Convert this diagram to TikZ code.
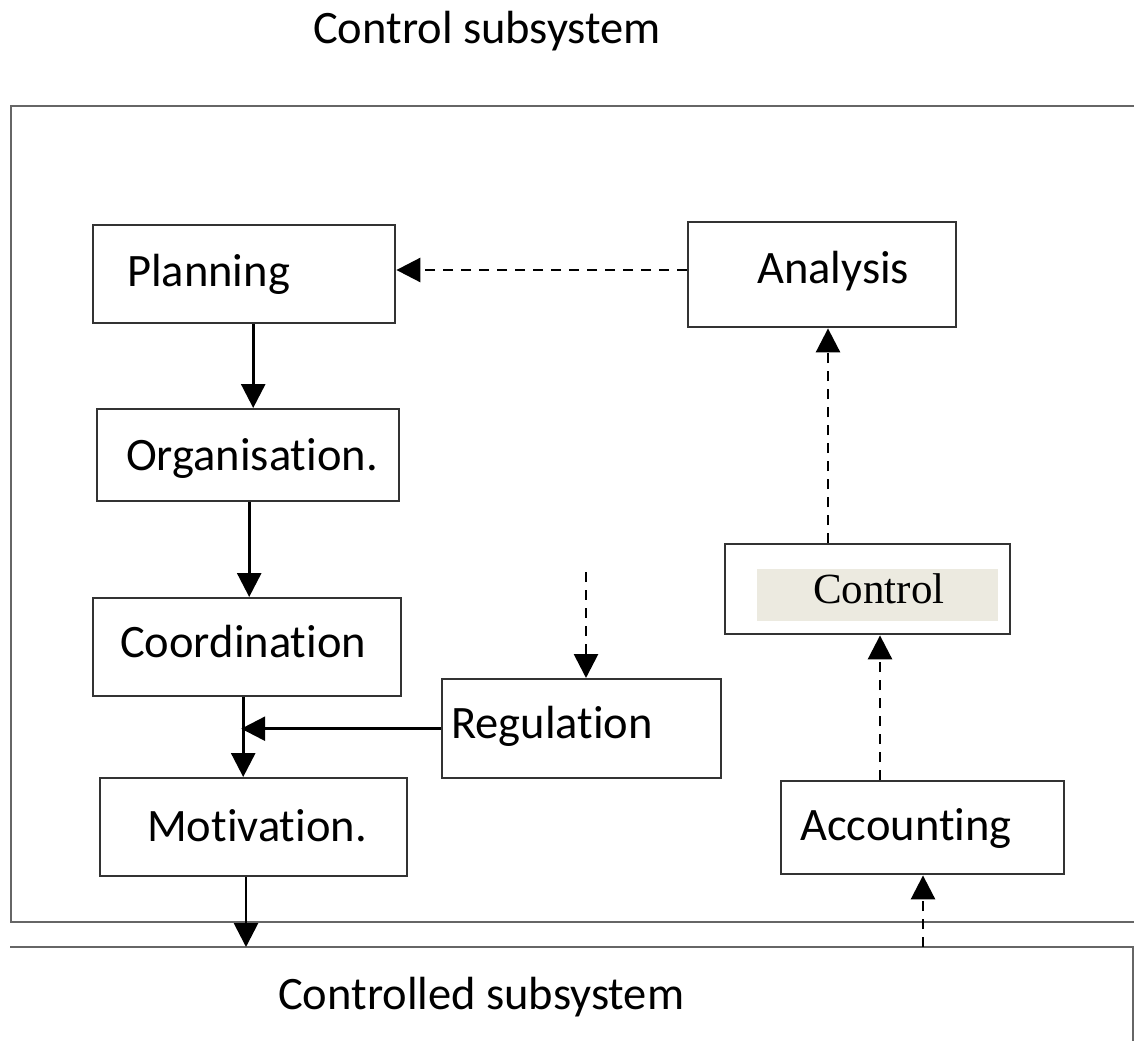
\documentclass[tikz,border=0pt]{standalone}
\usepackage{fontspec}
\setmainfont{Carlito}[Ligatures=CommonOff]
\newfontfamily\serifface{Liberation Serif}
\usetikzlibrary{arrows.meta}
\definecolor{boxline}{HTML}{333333}
\definecolor{frameline}{HTML}{666666}
\definecolor{shade}{HTML}{ECEAE0}
\tikzset{
  block/.style={draw=boxline, line width=2.4pt, rectangle, inner sep=0pt, anchor=north west},
  lbl/.style={inner sep=0pt, anchor=base west, font=\fontsize{46.5}{52}\selectfont},
  flow/.style={line width=2.8pt, -{Triangle[length=24pt,width=24pt]}},
  feedback/.style={flow, dash pattern=on 10pt off 8pt},
  frame/.style={draw=frameline, line width=2.6pt},
}
\begin{document}
\begin{tikzpicture}[x=1pt, y=-1pt]
\useasboundingbox (0,0) rectangle (1134,1041);

% subsystem frames
\draw[frame] (1134,106) -- (11,106) -- (11,922) -- (1134,922);
\draw[frame] (10,947) -- (1133,947) -- (1133,1041);

\node[lbl] (ctrlsub) at (313,44) {Control subsystem};
\node[lbl] (ctrldsub) at (278,1009) {Controlled subsystem};

% blocks of the control subsystem
\node[block, minimum width=302pt, minimum height=98pt] (plan) at (92,224) {};
\node[lbl] (plant) at (127,286) {Planning};

\node[block, minimum width=268pt, minimum height=105pt] (anal) at (687,221) {};
\node[lbl] (analt) at (757,283) {Analysis};

\node[block, minimum width=302pt, minimum height=92pt] (org) at (96,408) {};
\node[lbl] (orgt) at (126,470) {Organisation.};

\node[block, minimum width=308pt, minimum height=98pt] (coord) at (92,597) {};
\node[lbl] (coordt) at (120,657) {Coordination};

\node[block, minimum width=279pt, minimum height=99pt] (reg) at (441,678) {};
\node[lbl] (regt) at (451,738) {Regulation};

\node[block, minimum width=307pt, minimum height=98pt] (mot) at (99,777) {};
\node[lbl] (mott) at (147,841) {Motivation.};

\node[block, minimum width=285pt, minimum height=90pt] (ctrl) at (724,543) {};
\node[fill=shade, inner sep=0pt, minimum width=241pt, minimum height=52pt, anchor=north west] (ctrlbg) at (757,569) {};
\node[inner sep=0pt, anchor=base west, font=\serifface\fontsize{43}{48}\selectfont] (ctrlt) at (813,603) {Control};

\node[block, minimum width=283pt, minimum height=93pt] (acc) at (780,780) {};
\node[lbl] (acct) at (800,840) {Accounting};

% free ends and junction points
\coordinate (jn) at ([xshift=-4pt]coord.south);
\coordinate (regin) at (586,572);
\coordinate (out) at (246,947);
\coordinate (fb) at (923,947);

% main chain
\draw[flow] ([xshift=9pt]plan.south) -- ([xshift=9pt]plan.south |- org.north);
\draw[flow] ([xshift=1pt]org.south) -- ([xshift=1pt]org.south |- coord.north);
\draw[flow] (jn) -- (jn |- mot.north);
\draw[flow] (reg.west) -- ([xshift=-2pt]reg.west -| jn);
\draw[flow] (mot.south -| out) -- (out);

% feedback loop
\draw[feedback] (fb) -- (fb |- acc.south);
\draw[feedback] (acc.north -| 880,0) -- (ctrl.south -| 880,0);
\draw[feedback] (ctrl.north -| 828,0) -- (anal.south -| 828,0);
\draw[feedback] (anal.west |- 0,270) -- (plan.east |- 0,270);
\draw[feedback] (regin) -- (regin |- reg.north);
\end{tikzpicture}
\end{document}
